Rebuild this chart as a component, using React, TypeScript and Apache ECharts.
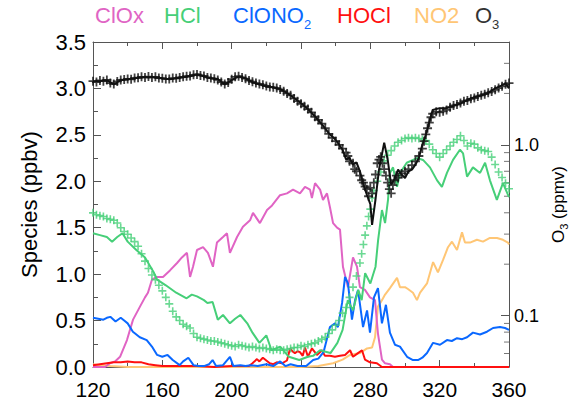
import React, { useEffect, useRef } from 'react';
import * as echarts from 'echarts';

const FONT = '"Liberation Sans", Arial, Helvetica, sans-serif';

// ---------------- data ----------------
const X_RANGE = [120, 360];
const SPECIES_RANGE = [0, 3.5];
const O3_RANGE = [0.05, 4];
const O3_MINOR_TICKS = [0.06, 0.07, 0.08, 0.09, 0.2, 0.3, 0.4, 0.5, 0.6, 0.7, 0.8, 0.9, 2, 3];

const LEGEND_NAMES = ['ClOx', 'HCl', 'ClONO2', 'HOCl', 'NO2', 'O3'];

// ClOx model (ppbv)
const CLOX = [
  [120, 0.0], [126.9, 0.0], [129.8, 0.04], [132.7, 0.06], [135.6, 0.11], [139.6, 0.29], [143.1, 0.51],
  [147.1, 0.65], [150, 0.75], [151.7, 0.8], [154, 0.94], [156.9, 0.97], [160.4, 0.97], [164.4, 1.04],
  [168.5, 1.12], [171.3, 1.18], [174.2, 1.23], [176, 0.97], [177.7, 1.08], [180, 1.26], [183.5, 1.29],
  [186.3, 1.23], [189.2, 1.08], [191.5, 1.34], [195, 1.4], [197.3, 1.44], [199, 1.23], [203.1, 1.4],
  [206.5, 1.51], [210.6, 1.58], [212.3, 1.66], [216.3, 1.55], [220.4, 1.69], [223.3, 1.74], [227.9, 1.85],
  [231.9, 1.87], [235.4, 1.91], [239.4, 1.87], [242.3, 1.94], [245.2, 1.91], [246.3, 1.82], [248.1, 1.98],
  [251, 1.91], [252.7, 1.8], [255, 1.87], [256.7, 1.72], [258.5, 1.55], [260.8, 1.5], [262.5, 1.48],
  [264.2, 1.08], [267.1, 0.86], [270, 1.18], [272.3, 1.08], [274, 0.86], [276.9, 0.83], [279.8, 0.75],
  [282.7, 0.72], [284.4, 0.36], [286.7, 0.08], [288.5, 0.04], [291.3, 0.03], [293.1, 0.0], [320, 0.0],
  [340, 0.0], [360, 0.0],
];

// HCl model line (ppbv)
const HCL_LINE = [
  [120, 1.44], [124, 1.42], [128, 1.4], [131, 1.35], [134, 1.4], [137, 1.44], [140, 1.35], [145, 1.26],
  [150, 1.18], [155, 1.02], [157, 0.94], [162, 0.88], [168, 0.8], [174, 0.74], [177, 0.78], [180, 0.76],
  [184, 0.72], [186, 0.69], [189, 0.7], [192, 0.51], [195, 0.56], [199, 0.47], [202, 0.52], [205, 0.56],
  [209, 0.47], [212, 0.37], [216, 0.26], [220, 0.34], [223, 0.18], [228, 0.22], [233, 0.11], [239, 0.075],
  [244, 0.11], [247, 0.12], [251, 0.18], [257, 0.15], [261, 0.26], [264, 0.4], [267, 0.72], [270, 0.61],
  [273, 0.83], [275, 0.72], [277, 1.01], [280, 0.9], [283, 1.08], [284.5, 1.37], [286.7, 1.69],
  [288.5, 1.55], [290.2, 1.8], [291.3, 2.09], [293.1, 2.15], [295.4, 1.94], [297.1, 2.09], [301, 2.2],
  [307, 2.25], [310.4, 2.23], [314.4, 2.15], [318.5, 2.01], [321.3, 1.94], [324.2, 2.09], [327.7, 2.23],
  [331.7, 2.34], [333.5, 2.3], [335.8, 2.05], [339.2, 2.15], [343.3, 2.09], [346.2, 2.2], [349, 2.01],
  [353, 1.8], [356.5, 1.98], [360, 1.83],
];

// HCl measured (ppbv)
const HCL_MEAS = [
  [120, 1.66], [122, 1.64], [124, 1.63], [126, 1.62], [128, 1.6], [130, 1.59], [132, 1.58], [134, 1.55],
  [136, 1.5], [138, 1.46], [140, 1.43], [142, 1.39], [144, 1.35], [146, 1.3], [148, 1.22], [150, 1.14],
  [152, 1.06], [154, 0.99], [156, 0.94], [158, 0.88], [160, 0.82], [162, 0.75], [164, 0.68], [166, 0.6],
  [168, 0.54], [170, 0.5], [172, 0.46], [174, 0.44], [176, 0.42], [178, 0.36], [180, 0.32], [182, 0.31],
  [184, 0.3], [186, 0.29], [188, 0.28], [190, 0.28], [192, 0.27], [194, 0.26], [196, 0.25], [198, 0.24],
  [200, 0.23], [202, 0.22], [204, 0.24], [206, 0.23], [208, 0.22], [210, 0.21], [212, 0.22], [214, 0.21],
  [216, 0.2], [218, 0.21], [220, 0.2], [222, 0.19], [224, 0.18], [226, 0.19], [228, 0.18], [230, 0.18],
  [232, 0.19], [234, 0.2], [236, 0.21], [238, 0.21], [240, 0.23], [242, 0.22], [244, 0.24], [246, 0.25],
  [248, 0.26], [250, 0.28], [252, 0.3], [254, 0.32], [256, 0.36], [258, 0.4], [260, 0.45], [262, 0.5],
  [264, 0.58], [266, 0.64], [268, 0.75], [270, 0.86], [272, 0.98], [274, 1.12], [275, 1.22], [276, 1.32],
  [277, 1.42], [278, 1.52], [279, 1.62], [280, 1.7], [281, 1.82], [282, 1.9], [284, 2.0], [286, 2.1],
  [288, 2.22], [290, 2.28], [292, 2.33], [294, 2.38], [296, 2.42], [298, 2.44], [300, 2.46], [302, 2.47],
  [304, 2.46], [306, 2.47], [308, 2.46], [310, 2.45], [312, 2.44], [314, 2.4], [316, 2.34], [318, 2.3],
  [320, 2.26], [322, 2.3], [324, 2.34], [326, 2.38], [328, 2.42], [330, 2.45], [332, 2.49], [334, 2.44],
  [336, 2.38], [338, 2.41], [340, 2.4], [342, 2.36], [344, 2.34], [346, 2.33], [348, 2.32], [350, 2.26],
  [352, 2.18], [354, 2.1], [356, 2.04], [358, 1.98], [360, 1.92],
];

// ClONO2 model (ppbv)
const CLONO2 = [
  [120, 0.53], [123, 0.52], [126, 0.51], [128, 0.53], [130, 0.54], [133, 0.49], [136, 0.53], [138, 0.5],
  [140, 0.47], [143, 0.38], [147, 0.32], [151, 0.29], [154, 0.22], [157, 0.13], [160, 0.11], [163, 0.13],
  [166, 0.075], [170, 0.02], [172, 0.06], [175, 0.1], [178, 0.02], [181, 0.01], [184, 0.01], [187, 0.03],
  [189, 0.075], [191, 0.01], [195, 0.02], [199, 0.11], [201, 0.01], [205, 0.02], [208, 0.01], [211, 0.02],
  [215, 0.01], [220, 0.03], [224, 0.01], [228, 0.06], [231, 0.01], [234, 0.03], [238, 0.01], [243, 0.01],
  [247, 0.075], [250, 0.09], [253, 0.16], [256.7, 0.43], [259.6, 0.47], [261.3, 0.43], [263.7, 0.69],
  [265.4, 0.97], [267.1, 0.9], [269.4, 0.51], [271.2, 0.72], [272.9, 0.83], [275.8, 0.43], [278.1, 0.61],
  [279.8, 0.37], [282.1, 0.75], [284.4, 0.85], [286.7, 0.47], [289, 0.67], [291.3, 0.37], [294.2, 0.24],
  [297.1, 0.22], [301.2, 0.11], [304.6, 0.075], [307.5, 0.075], [310, 0.1], [312.7, 0.15], [316.2, 0.26],
  [320.2, 0.24], [324.2, 0.29], [327, 0.28], [330, 0.31], [333, 0.3], [335.8, 0.32], [339.2, 0.37],
  [343.3, 0.35], [347.3, 0.38], [350.8, 0.42], [354.8, 0.43], [357.7, 0.42], [360, 0.4],
];

// HOCl model (ppbv)
const HOCL = [
  [120, 0.02], [124, 0.03], [128, 0.04], [132, 0.05], [136, 0.05], [140, 0.06], [144, 0.05], [148, 0.05],
  [152, 0.03], [156, 0.02], [160, 0.01], [170, 0.01], [180, 0.01], [190, 0.0], [200, 0.01], [206, 0.01],
  [210, 0.01], [212, 0.04], [214.6, 0.085], [216, 0.06], [218, 0.1], [220, 0.07], [222, 0.04], [224, 0.03],
  [226, 0.05], [229, 0.04], [231.9, 0.07], [233.7, 0.2], [235, 0.17], [236.5, 0.15], [238, 0.17],
  [239.4, 0.16], [241, 0.12], [242.3, 0.21], [244, 0.11], [246.3, 0.2], [248, 0.16], [249.2, 0.13],
  [252.1, 0.18], [253.8, 0.12], [256.7, 0.12], [259.6, 0.11], [262.5, 0.12], [265.4, 0.13], [268.3, 0.18],
  [270, 0.11], [272.9, 0.15], [275.2, 0.18], [276.9, 0.08], [279.8, 0.05], [283.8, 0.04], [286.7, 0.0],
  [300, 0.0], [320, 0.0], [340, 0.0], [360, 0.0],
];

// NO2 model (ppbv)
const NO2 = [
  [120, 0.03], [124, 0.02], [130, 0.01], [140, 0.0], [160, 0.0], [200, 0.0], [240, 0.0], [250, 0.01],
  [258.5, 0.04], [264, 0.08], [268.3, 0.13], [274, 0.15], [278.1, 0.2], [281, 0.21], [282.7, 0.32],
  [284.4, 0.65], [286.7, 0.72], [288.5, 0.78], [291.3, 0.85], [295.4, 0.96], [297.1, 0.86], [300, 0.86],
  [301.7, 0.84], [304.6, 0.8], [306.9, 0.72], [308.7, 0.8], [312.7, 0.9], [316.2, 1.13], [319, 1.02],
  [321.9, 1.15], [324.8, 1.29], [327.1, 1.35], [330, 1.26], [332.9, 1.45], [334.6, 1.34], [337.5, 1.34],
  [341.5, 1.37], [345, 1.35], [349, 1.39], [353.1, 1.39], [356.5, 1.37], [359.4, 1.34], [360, 1.32],
];

// O3 model (ppmv)
const O3_LINE = [
  [120, 2.36], [124, 2.36], [128, 2.39], [132, 2.26], [136, 2.39], [140, 2.42], [144, 2.45], [148, 2.49],
  [152, 2.49], [156, 2.49], [160, 2.45], [164, 2.42], [168, 2.45], [172, 2.49], [176, 2.52], [180, 2.59],
  [184, 2.52], [188, 2.45], [192, 2.42], [196, 2.26], [200, 2.39], [204, 2.52], [208, 2.45], [212, 2.33],
  [216, 2.26], [220, 2.2], [224, 2.17], [228, 2.12], [232, 2.01], [236, 1.88], [240, 1.75], [244, 1.62],
  [248, 1.47], [252, 1.32], [256, 1.17], [260, 1.07], [264, 0.935], [266, 0.82], [268, 0.84], [270, 0.765],
  [272, 0.79], [274, 0.7], [276, 0.585], [278, 0.51], [280, 0.45], [281, 0.34], [283, 0.48], [285, 0.716],
  [288, 1.03], [290, 0.82], [292, 0.585], [294, 0.63], [296, 0.716], [298, 0.67], [300, 0.64], [302, 0.7],
  [304, 0.716], [306, 0.765], [308, 0.84], [310, 1.0], [312, 1.14], [314, 1.36], [316, 1.6], [320, 1.64],
  [324, 1.64], [328, 1.69], [332, 1.75], [336, 1.83], [340, 1.9], [344, 1.95], [348, 2.01], [352, 2.14],
  [356, 2.23], [358, 2.29], [360, 2.14],
];

// O3 measured (ppmv)
const O3_MEAS = [
  [120, 2.36], [122, 2.33], [124, 2.38], [126, 2.36], [128, 2.4], [130, 2.3], [132, 2.27], [134, 2.35],
  [136, 2.4], [138, 2.41], [140, 2.43], [142, 2.42], [144, 2.46], [146, 2.47], [148, 2.5], [150, 2.48],
  [152, 2.51], [154, 2.48], [156, 2.5], [158, 2.46], [160, 2.45], [162, 2.43], [164, 2.43], [166, 2.46],
  [168, 2.45], [170, 2.48], [172, 2.5], [174, 2.52], [176, 2.53], [178, 2.57], [180, 2.58], [182, 2.55],
  [184, 2.53], [186, 2.48], [188, 2.46], [190, 2.44], [192, 2.4], [194, 2.33], [196, 2.27], [198, 2.32],
  [200, 2.42], [202, 2.5], [204, 2.52], [206, 2.48], [208, 2.44], [210, 2.38], [212, 2.34], [214, 2.3],
  [216, 2.27], [218, 2.25], [220, 2.21], [222, 2.18], [224, 2.17], [226, 2.15], [228, 2.11], [230, 2.06],
  [232, 2.0], [234, 1.95], [236, 1.87], [238, 1.8], [240, 1.74], [242, 1.68], [244, 1.62], [246, 1.55],
  [248, 1.46], [250, 1.4], [252, 1.33], [254, 1.25], [256, 1.16], [258, 1.1], [260, 1.05], [262, 1.0],
  [264, 0.95], [266, 0.9], [267, 0.86], [268, 0.8], [270, 0.78], [271, 0.72], [272, 0.7], [274, 0.66],
  [275, 0.62], [276, 0.6], [277, 0.57], [278, 0.55], [279, 0.5], [280, 0.56], [281, 0.52], [282, 0.6],
  [283, 0.67], [284, 0.78], [285, 0.82], [286, 0.85], [287, 0.78], [288, 0.72], [289, 0.66], [290, 0.6],
  [291, 0.55], [292, 0.52], [293, 0.58], [294, 0.62], [295, 0.66], [296, 0.64], [298, 0.68], [300, 0.7],
  [302, 0.72], [304, 0.76], [306, 0.8], [308, 0.86], [310, 0.95], [311, 1.05], [312, 1.15], [313, 1.25],
  [314, 1.35], [315, 1.45], [316, 1.52], [318, 1.56], [320, 1.55], [322, 1.57], [324, 1.6], [326, 1.66],
  [328, 1.7], [330, 1.72], [332, 1.76], [334, 1.8], [336, 1.82], [338, 1.86], [340, 1.88], [342, 1.92],
  [344, 1.95], [346, 1.98], [348, 2.02], [350, 2.05], [352, 2.1], [354, 2.15], [356, 2.2], [358, 2.26],
  [360, 2.3],
];

// ---------------- styling ----------------
const C_CLOX = '#e064c4';
const C_HCL = '#46cf78';
const C_CLONO2 = '#0a68ff';
const C_HOCL = '#ff1010';
const C_NO2 = '#ffc675';
const C_O3 = '#111111';
const AXIS = '#555555';
const PLUS = 'path://M4,0h2v4h4v2h-4v4h-2v-4h-4v-2h4z';

const LEGEND_X = [95, 164, 233, 337, 414, 475];
const LEGEND_COLORS = [C_CLOX, C_HCL, C_CLONO2, C_HOCL, C_NO2, '#333333'];

function legendText(name: string): string {
  if (name === 'ClONO2') return '{a|ClONO}{b|2}';
  if (name === 'O3') return '{a|O}{b|3}';
  return '{a|' + name + '}';
}

export default function App() {
  const ref = useRef<HTMLDivElement>(null);
  useEffect(() => {
    document.body.style.margin = '0';
    if (!ref.current) return;
    const chart = echarts.init(ref.current, undefined, { renderer: 'svg' });

    const xAxisBase = {
      type: 'value',
      min: X_RANGE[0],
      max: X_RANGE[1],
      interval: 40,
      splitLine: { show: false },
      axisLine: { show: true, onZero: false, lineStyle: { color: AXIS, width: 1 } },
      axisTick: { show: true, inside: true, length: 7, lineStyle: { color: AXIS } },
      minorTick: { show: true, splitNumber: 2, length: 4, lineStyle: { color: AXIS } },
      minorSplitLine: { show: false },
    };

    const graphic = LEGEND_NAMES.map((n, i) => ({
      type: 'text',
      x: LEGEND_X[i],
      y: -1,
      z: 100,
      style: {
        text: legendText(n),
        align: 'left',
        verticalAlign: 'top',
        fill: LEGEND_COLORS[i],
        rich: {
          a: { fontSize: 22, fontFamily: FONT, fill: LEGEND_COLORS[i], lineHeight: 32 },
          b: { fontSize: 13, fontFamily: FONT, fill: LEGEND_COLORS[i], lineHeight: 13, verticalAlign: 'bottom' },
        },
      },
    }));

    const option: any = {
      animation: false,
      backgroundColor: '#ffffff',
      textStyle: { fontFamily: FONT },
      grid: { left: 93, top: 42, right: 60, bottom: 34, containLabel: false, outerBoundsMode: 'none' },
      graphic,
      xAxis: [
        {
          ...xAxisBase,
          position: 'bottom',
          axisLabel: { show: true, fontSize: 21, lineHeight: 21, color: '#000', margin: 12, fontFamily: FONT },
        },
        {
          ...xAxisBase,
          position: 'top',
          axisLabel: { show: false },
        },
      ],
      yAxis: [
        {
          type: 'value',
          position: 'left',
          min: SPECIES_RANGE[0],
          max: SPECIES_RANGE[1],
          interval: 0.5,
          name: 'Species (ppbv)',
          nameLocation: 'middle',
          nameRotate: 90,
          nameGap: 53,
          nameTextStyle: { fontSize: 22, color: '#000', fontFamily: FONT },
          splitLine: { show: false },
          axisLine: { show: true, onZero: false, lineStyle: { color: AXIS, width: 1 } },
          axisTick: { show: true, inside: true, length: 8, lineStyle: { color: AXIS } },
          minorTick: { show: true, splitNumber: 2, length: 5, lineStyle: { color: AXIS } },
          axisLabel: {
            fontSize: 22,
            color: '#000',
            margin: 7,
            fontFamily: FONT,
            formatter: (v: number) => v.toFixed(1),
          },
        },
        {
          type: 'log',
          logBase: 10,
          position: 'right',
          min: O3_RANGE[0],
          max: O3_RANGE[1],
          name: '{a|O}{b|3}{a| (ppmv)}',
          nameLocation: 'middle',
          nameRotate: 90,
          nameGap: 24,
          nameTextStyle: {
            color: '#000',
            rich: {
              a: { fontSize: 17, fontFamily: FONT, color: '#000', lineHeight: 22 },
              b: { fontSize: 11, fontFamily: FONT, color: '#000', lineHeight: 11, verticalAlign: 'bottom' },
            },
          },
          splitLine: { show: false },
          axisLine: { show: true, onZero: false, lineStyle: { color: AXIS, width: 1 } },
          axisTick: { show: true, inside: true, length: 8, lineStyle: { color: AXIS } },
          minorTick: { show: false },
          axisLabel: {
            fontSize: 18,
            color: '#000',
            margin: 5,
            fontFamily: FONT,
            showMinLabel: false,
            showMaxLabel: false,
            formatter: (v: number) =>
              Math.abs(v - 1) < 1e-6 ? '1.0' : Math.abs(v - 0.1) < 1e-6 ? '0.1' : '',
          },
        },
      ],
      series: [
        {
          type: 'scatter',
          name: 'o3ticks',
          yAxisIndex: 1,
          silent: true,
          clip: false,
          symbol: 'rect',
          symbolSize: [5, 1],
          symbolOffset: [-2.5, 0],
          itemStyle: { color: AXIS },
          data: O3_MINOR_TICKS.map((v) => [X_RANGE[1], v]),
          z: 1,
        },
        { type: 'line', name: 'NO2', data: NO2, showSymbol: false, lineStyle: { color: C_NO2, width: 2 }, z: 2 },
        { type: 'line', name: 'ClOx', data: CLOX, showSymbol: false, lineStyle: { color: C_CLOX, width: 2 }, z: 3 },
        { type: 'line', name: 'HOCl', data: HOCL, showSymbol: false, lineStyle: { color: C_HOCL, width: 2 }, z: 4 },
        { type: 'line', name: 'ClONO2', data: CLONO2, showSymbol: false, lineStyle: { color: C_CLONO2, width: 2 }, z: 5 },
        { type: 'line', name: 'HCl', data: HCL_LINE, showSymbol: false, lineStyle: { color: C_HCL, width: 2 }, z: 6 },
        {
          type: 'scatter',
          name: 'HCl meas',
          data: HCL_MEAS,
          symbol: PLUS,
          symbolSize: 8,
          itemStyle: { color: C_HCL },
          z: 7,
        },
        {
          type: 'scatter',
          name: 'O3 meas',
          yAxisIndex: 1,
          data: O3_MEAS,
          symbol: PLUS,
          symbolSize: 9,
          itemStyle: { color: C_O3 },
          z: 8,
        },
        {
          type: 'line',
          name: 'O3',
          yAxisIndex: 1,
          data: O3_LINE,
          showSymbol: false,
          lineStyle: { color: C_O3, width: 2 },
          z: 9,
        },
      ],
    };

    chart.setOption(option);
    return () => chart.dispose();
  }, []);

  return <div ref={ref} style={{ width: 569, height: 401 }} />;
}
